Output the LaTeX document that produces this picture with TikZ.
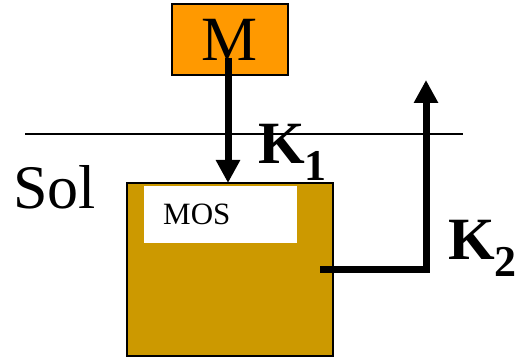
\documentclass[tikz,border=0pt]{standalone}
\usepackage{fontspec}
\setmainfont{Liberation Serif}
\usetikzlibrary{arrows.meta,calc,positioning}
\definecolor{metalorange}{HTML}{FF9900}
\definecolor{soilgold}{HTML}{CC9900}
\tikzstyle{compartment}=[
  draw=black,
  line width=1.5pt,
  rectangle,
  inner sep=0pt,
  outer sep=0pt,
]
\tikzstyle{flux}=[
  draw=black,
  line width=7pt,
  -{Triangle[length=23pt,width=23pt]},
]
\tikzstyle{ratelabel}=[
  anchor=base west,
  inner sep=0pt,
  font={\fontsize{60}{60}\selectfont\bfseries},
]
\tikzstyle{biglabel}=[
  inner sep=0pt,
  font={\fontsize{62}{62}\selectfont},
]
\tikzset{
  x=1pt,
  y=1pt,
}
\newcommand{\ratesub}[1]{\raisebox{-17pt}{\fontsize{44}{44}\selectfont #1}}

\begin{document}
\begin{tikzpicture}
      \useasboundingbox (0,0) rectangle (521,358);
      %%
      \node (soil) [compartment, fill=soilgold, minimum width=206pt, minimum height=173pt]
        at (230,88.5) {};
      \node (moslabel) [fill=white, inner sep=0pt, minimum width=153pt, minimum height=57pt,
        anchor=north west, font={\fontsize{31}{31}\selectfont}]
        at ($(soil.north west)+(17,-3)$) {\makebox[153pt][l]{\hspace{19pt}MOS}};
      \node (metal) [compartment, fill=metalorange, minimum width=116pt, minimum height=71pt,
        font={\fontsize{63}{63}\selectfont}] at (230,318.5) {M};
      %%
      \draw [line width=1.2pt] (25,224) coordinate (surfaceW) -- (463,224) coordinate (surfaceE);
      \node (sol) [biglabel, anchor=base west] at (13,149) {Sol};
      %%
      \coordinate (A) at ($(metal.center)+(-2,-18.5)$);
      \coordinate (B) at (A|-soil.north);
      \draw [flux] (A) -- (B);
      \node (k1) [ratelabel] at (258,194) {K\ratesub{1}};
      %%
      \coordinate (C) at (320,88.5);
      \coordinate (D) at (426,88.5);
      \coordinate (E) at (426,278);
      \draw [flux] (C) -- (D) -- (E);
      \node (k2) [ratelabel] at (448,98) {K\ratesub{2}};
    \end{tikzpicture}
\end{document}
